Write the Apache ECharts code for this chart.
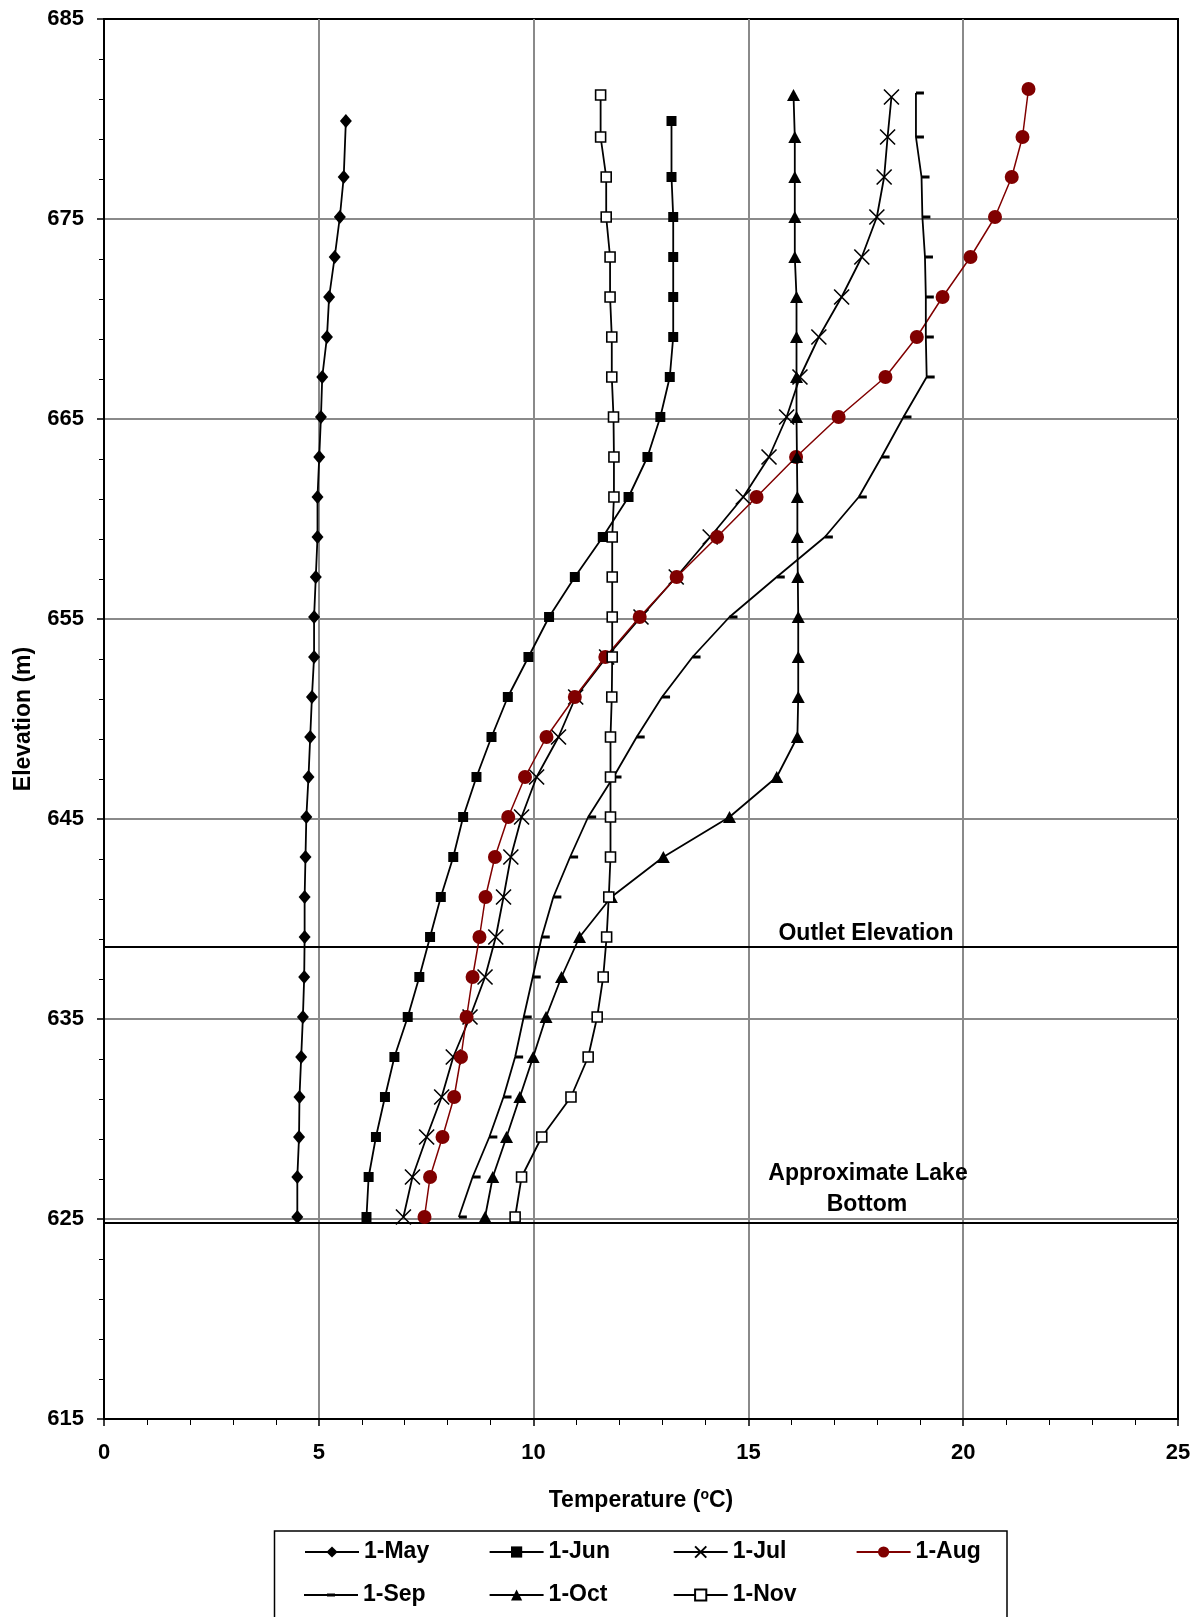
<!DOCTYPE html>
<html><head><meta charset="utf-8">
<script src="https://cdn.jsdelivr.net/npm/echarts@6/dist/echarts.min.js"></script>
<style>html,body{margin:0;padding:0;background:#fff}#c{width:1199px;height:1617px}</style>
</head><body><div id="c"></div>
<script>
// ---------- DATA ----------
const yTicks = [615, 625, 635, 645, 655, 665, 675, 685];
const xTicks = [0, 5, 10, 15, 20, 25];

const elevLevels = [625.1, 627.1, 629.1, 631.1, 633.1, 635.1, 637.1, 639.1, 641.1, 643.1, 645.1, 647.1, 649.1,
  651.1, 653.1, 655.1, 657.1, 659.1, 661.1, 663.1, 665.1, 667.1, 669.1, 671.1, 673.1, 675.1, 677.1];
const elevMay = elevLevels.concat([679.9]);
const elevJun = elevLevels.concat([679.9]);
const elevJul = elevLevels.concat([679.1, 681.1]);
const elevAug = elevLevels.concat([679.1, 681.5]);
const elevSep = elevLevels.concat([679.1, 681.3]);
const elevOct = elevLevels.concat([679.1, 681.2]);
const elevNov = elevLevels.concat([679.1, 681.2]);

const tempMay = [4.50, 4.50, 4.54, 4.55, 4.59, 4.63, 4.66, 4.67, 4.67, 4.69, 4.71, 4.76, 4.80, 4.84, 4.89, 4.89,
  4.93, 4.97, 4.97, 5.01, 5.05, 5.08, 5.19, 5.24, 5.37, 5.49, 5.58, 5.63];
const tempJun = [6.11, 6.16, 6.33, 6.54, 6.76, 7.07, 7.34, 7.59, 7.84, 8.13, 8.36, 8.67, 9.02, 9.40, 9.88, 10.36,
  10.96, 11.61, 12.21, 12.65, 12.95, 13.17, 13.25, 13.25, 13.25, 13.25, 13.21, 13.21];
const tempJul = [6.97, 7.18, 7.51, 7.86, 8.13, 8.52, 8.87, 9.12, 9.30, 9.47, 9.72, 10.07, 10.58, 10.98, 11.70, 12.50,
  13.32, 14.11, 14.88, 15.48, 15.89, 16.20, 16.64, 17.17, 17.64, 17.99, 18.16, 18.24, 18.33];
const tempAug = [7.46, 7.59, 7.88, 8.15, 8.31, 8.44, 8.58, 8.74, 8.88, 9.10, 9.41, 9.80, 10.30, 10.96, 11.67, 12.47,
  13.33, 14.27, 15.19, 16.11, 17.10, 18.19, 18.92, 19.52, 20.17, 20.74, 21.13, 21.38, 21.52];
const tempSep = [8.26, 8.58, 8.97, 9.30, 9.57, 9.77, 9.98, 10.19, 10.46, 10.85, 11.27, 11.86, 12.40, 12.99, 13.70, 14.56,
  15.66, 16.78, 17.57, 18.10, 18.61, 19.15, 19.13, 19.13, 19.11, 19.05, 19.03, 18.90, 18.90];
const tempOct = [8.87, 9.05, 9.37, 9.68, 9.99, 10.29, 10.65, 11.07, 11.81, 13.02, 14.56, 15.66, 16.14, 16.16, 16.16, 16.16,
  16.15, 16.14, 16.14, 16.13, 16.12, 16.12, 16.12, 16.12, 16.08, 16.08, 16.08, 16.08, 16.05];
const tempNov = [9.57, 9.72, 10.19, 10.87, 11.27, 11.48, 11.62, 11.70, 11.75, 11.79, 11.79, 11.79, 11.79, 11.82, 11.83, 11.83,
  11.83, 11.83, 11.87, 11.87, 11.86, 11.82, 11.82, 11.78, 11.78, 11.69, 11.69, 11.56, 11.56];

const outletElev = 638.6;
const lakeBottomElev = 624.8;

// ---------- CHART ----------
const FONT = '"Liberation Sans", Arial, sans-serif';
const pairs = (t, e) => t.map((v, i) => [v, e[i]]);

const defs = [
  { name: '1-May', t: tempMay, e: elevMay, symbol: 'diamond', size: [12, 14], fill: '#000', line: '#000', lw: 1.8 },
  { name: '1-Jun', t: tempJun, e: elevJun, symbol: 'rect', size: [10, 10], fill: '#000', line: '#000', lw: 1.8 },
  { name: '1-Jul', t: tempJul, e: elevJul, symbol: 'path://M0,0L10,10M10,0L0,10', size: [15, 15], fill: 'rgba(0,0,0,0)', border: '#000', bw: 1.6, line: '#000', lw: 1.8 },
  { name: '1-Aug', t: tempAug, e: elevAug, symbol: 'circle', size: 14, fill: '#800000', line: '#800000', lw: 1.5 },
  { name: '1-Sep', t: tempSep, e: elevSep, symbol: 'rect', size: [8, 3], offset: [4, 0], fill: '#000', line: '#000', lw: 1.8,
    legendIcon: 'path://M0,0H0.01V0.01H0Z M53.99,13.99H54V14H53.99Z M0,6.1H54V7.9H0Z M23,5.4H31V8.6H23Z' },
  { name: '1-Oct', t: tempOct, e: elevOct, symbol: 'triangle', size: [13, 12], fill: '#000', line: '#000', lw: 1.8 },
  { name: '1-Nov', t: tempNov, e: elevNov, symbol: 'rect', size: [10, 10], fill: '#fff', border: '#000', bw: 1.6, line: '#000', lw: 1.8 }
];

const series = defs.map((d, i) => {
  const s = {
    name: d.name, type: 'line', data: pairs(d.t, d.e),
    symbol: d.symbol, symbolSize: d.size, showAllSymbol: true,
    symbolOffset: d.offset || [0, 0],
    itemStyle: { color: d.fill, borderColor: d.border || d.fill, borderWidth: d.bw || 0, opacity: 1 },
    lineStyle: { color: d.line, width: d.lw },
    emphasis: { disabled: true },
    z: 3 + i
  };
  if (i === 0) {
    s.markLine = {
      silent: true, symbol: 'none', label: { show: false },
      lineStyle: { color: '#000', width: 2, type: 'solid' },
      data: [{ yAxis: outletElev }, { yAxis: lakeBottomElev }],
      z: 2
    };
  }
  return s;
});

const legendPos = [
  [304, 1540], [488.6, 1540], [672.7, 1540], [855.6, 1540],
  [304, 1583], [488.6, 1583], [672.7, 1583]
];
const legends = defs.map((d, i) => ({
  data: [d.legendIcon ? { name: d.name, icon: d.legendIcon, itemStyle: { color: '#000' } } : d.name],
  left: legendPos[i][0], top: legendPos[i][1], padding: 0,
  itemWidth: 54, itemHeight: 14, itemGap: 0, selectedMode: false,
  textStyle: { fontFamily: FONT, fontWeight: 'bold', fontSize: 23, color: '#000', lineHeight: 24 }
}));

const tickFont = { fontFamily: FONT, fontWeight: 'bold', fontSize: 22, color: '#000' };
const titleFont = { fontFamily: FONT, fontWeight: 'bold', fontSize: 23, color: '#000' };

const option = {
  animation: false,
  backgroundColor: '#fff',
  grid: { left: 104, right: 21, top: 19, bottom: 198, show: true, borderColor: '#000', borderWidth: 2, backgroundColor: 'transparent' },
  legend: legends,
  xAxis: {
    type: 'value', min: xTicks[0], max: xTicks[xTicks.length - 1], interval: xTicks[1] - xTicks[0],
    name: '{t|Temperature (}{s|o}{t|C)}', nameLocation: 'middle', nameGap: 69,
    nameTextStyle: { rich: { t: Object.assign({}, titleFont), s: Object.assign({}, titleFont, { fontSize: 14, padding: [0, 0, 11, 0] }) } },
    axisLine: { show: true, onZero: false, lineStyle: { color: '#000', width: 2 } },
    axisTick: { show: true, inside: false, length: 7, lineStyle: { color: '#000', width: 1.5 } },
    minorTick: { show: true, splitNumber: 5, length: 6, lineStyle: { color: '#000', width: 1 } },
    axisLabel: Object.assign({ margin: 23 }, tickFont),
    splitLine: { show: true, showMinLine: false, showMaxLine: false, lineStyle: { color: '#8a8a8a', width: 2 } }
  },
  yAxis: {
    type: 'value', min: yTicks[0], max: yTicks[yTicks.length - 1], interval: yTicks[1] - yTicks[0],
    name: 'Elevation (m)', nameLocation: 'middle', nameGap: 69, nameRotate: 90,
    nameTextStyle: titleFont,
    axisLine: { show: true, onZero: false, lineStyle: { color: '#000', width: 2 } },
    axisTick: { show: true, inside: false, length: 7, lineStyle: { color: '#000', width: 1.5 } },
    minorTick: { show: true, splitNumber: 5, length: 5, lineStyle: { color: '#000', width: 1 } },
    axisLabel: Object.assign({ margin: 20 }, tickFont),
    splitLine: { show: true, showMinLine: false, showMaxLine: false, lineStyle: { color: '#8a8a8a', width: 2 } }
  },
  series: series,
  graphic: [
    { type: 'rect', shape: { x: 274.5, y: 1531, width: 732.5, height: 120 }, style: { fill: 'none', stroke: '#000', lineWidth: 1.5 }, silent: true },
    { type: 'text', x: 866, y: 934, style: { text: 'Outlet Elevation', align: 'center', verticalAlign: 'middle', font: 'bold 23px ' + FONT, fill: '#000' }, silent: true, z: 10 },
    { type: 'text', x: 868, y: 1174, style: { text: 'Approximate Lake', align: 'center', verticalAlign: 'middle', font: 'bold 23px ' + FONT, fill: '#000' }, silent: true, z: 10 },
    { type: 'text', x: 867, y: 1205, style: { text: 'Bottom', align: 'center', verticalAlign: 'middle', font: 'bold 23px ' + FONT, fill: '#000' }, silent: true, z: 10 }
  ]
};

const chart = echarts.init(document.getElementById('c'), null, { renderer: 'canvas', width: 1199, height: 1617 });
chart.setOption(option);
</script>
</body></html>
